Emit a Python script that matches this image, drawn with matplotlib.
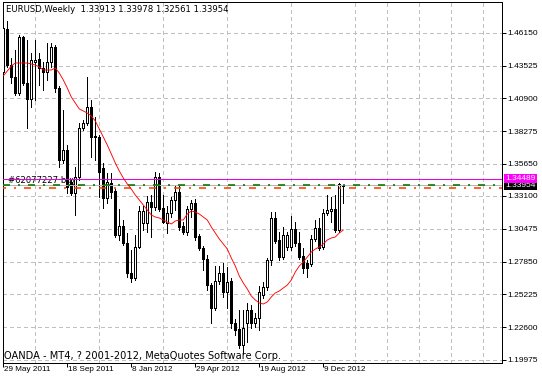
import matplotlib
matplotlib.use("Agg")
import matplotlib.pyplot as plt

plt.rcParams['lines.scale_dashes'] = False

# ---------------- data ----------------
title_text = "EURUSD,Weekly  1.33913 1.33978 1.32561 1.33954"
copyright_text = "OANDA - MT4, ? 2001-2012, MetaQuotes Software Corp."
order_label = "#62077227 buy"

opens = [1.4301, 1.4645, 1.4357, 1.4261, 1.4133, 1.4581, 1.4213, 1.4085, 1.4381, 1.4405,
         1.4333, 1.4301, 1.4381, 1.4501, 1.4173, 1.3597, 1.3677, 1.3421, 1.3333, 1.3461,
         1.3853, 1.3893, 1.4021, 1.3789, 1.3781, 1.3533, 1.3293, 1.3413, 1.3349, 1.2997,
         1.3069, 1.2933, 1.2693, 1.2653, 1.2901, 1.3093, 1.3093, 1.3261, 1.3221, 1.3461,
         1.3213, 1.3093, 1.3173, 1.3277, 1.3341, 1.3069, 1.3021, 1.3205, 1.3253, 1.2989,
         1.2893, 1.2805, 1.2597, 1.2413, 1.2629, 1.2693, 1.2541, 1.2629, 1.2293, 1.2245,
         1.2117, 1.2293, 1.2397, 1.2293, 1.2333, 1.2517, 1.2581, 1.2797, 1.3133, 1.2957,
         1.2821, 1.2901, 1.2901, 1.3045, 1.2933, 1.2829, 1.2773, 1.2765, 1.2965, 1.3053,
         1.2901, 1.3173, 1.3189, 1.3205, 1.3037, 1.33913]
highs = [1.4677, 1.4709, 1.4413, 1.4477, 1.4597, 1.4589, 1.4557, 1.4453, 1.4557, 1.4453,
         1.4381, 1.4533, 1.4533, 1.4517, 1.4189, 1.3997, 1.3717, 1.3437, 1.3541, 1.3893,
         1.3917, 1.4261, 1.4077, 1.3941, 1.3797, 1.3573, 1.3493, 1.3493, 1.3365, 1.3205,
         1.3117, 1.3013, 1.2877, 1.2997, 1.3229, 1.3229, 1.3309, 1.3317, 1.3501, 1.3493,
         1.3317, 1.3229, 1.3301, 1.3389, 1.3389, 1.3101, 1.3229, 1.3277, 1.3285, 1.3005,
         1.2909, 1.2837, 1.2613, 1.2749, 1.2749, 1.2773, 1.2741, 1.2653, 1.2325, 1.2397,
         1.2397, 1.2453, 1.2437, 1.2373, 1.2589, 1.2621, 1.2813, 1.3181, 1.3181, 1.3021,
         1.3061, 1.3021, 1.3149, 1.3101, 1.3021, 1.2893, 1.2797, 1.2997, 1.3117, 1.3133,
         1.3205, 1.3317, 1.3301, 1.3317, 1.3413, 1.33978]
lows = [1.4261, 1.4341, 1.4213, 1.4117, 1.4117, 1.4197, 1.3853, 1.4021, 1.4077, 1.4197,
        1.4157, 1.4237, 1.4341, 1.4141, 1.3541, 1.3573, 1.3333, 1.3317, 1.3157, 1.3437,
        1.3837, 1.3877, 1.3621, 1.3597, 1.3301, 1.3213, 1.3253, 1.3293, 1.2981, 1.2957,
        1.2917, 1.2661, 1.2621, 1.2637, 1.2893, 1.3037, 1.3021, 1.2981, 1.3197, 1.3189,
        1.3093, 1.3013, 1.3141, 1.3197, 1.3037, 1.3005, 1.2997, 1.3141, 1.2957, 1.2877,
        1.2717, 1.2557, 1.2293, 1.2397, 1.2605, 1.2501, 1.2413, 1.2253, 1.2197, 1.2093,
        1.2053, 1.2141, 1.2253, 1.2261, 1.2237, 1.2493, 1.2557, 1.2757, 1.2933, 1.2797,
        1.2805, 1.2877, 1.2877, 1.2909, 1.2805, 1.2693, 1.2661, 1.2749, 1.2949, 1.2877,
        1.2885, 1.3157, 1.3101, 1.3021, 1.3021, 1.32561]
closes = [1.4653, 1.4357, 1.4261, 1.4133, 1.4581, 1.4213, 1.4085, 1.4397, 1.4397, 1.4333,
          1.4301, 1.4381, 1.4501, 1.4173, 1.3597, 1.3677, 1.3381, 1.3333, 1.3461, 1.3853,
          1.3893, 1.4021, 1.3781, 1.3781, 1.3501, 1.3293, 1.3421, 1.3341, 1.2997, 1.3069,
          1.2933, 1.2693, 1.2653, 1.2901, 1.3189, 1.3189, 1.3261, 1.3221, 1.3461, 1.3205,
          1.3101, 1.3173, 1.3277, 1.3341, 1.3061, 1.3021, 1.3205, 1.3253, 1.2981, 1.2893,
          1.2805, 1.2597, 1.2413, 1.2629, 1.2693, 1.2541, 1.2621, 1.2293, 1.2237, 1.2117,
          1.2253, 1.2397, 1.2293, 1.2333, 1.2541, 1.2581, 1.2797, 1.3133, 1.2949, 1.2821,
          1.2997, 1.2997, 1.3045, 1.2933, 1.2821, 1.2733, 1.2733, 1.2965, 1.3053, 1.2893,
          1.3173, 1.3197, 1.3205, 1.3037, 1.3405, 1.33954]
ma_values = [1.4269, 1.4309, 1.4349, 1.4373, 1.4373, 1.4373, 1.4373, 1.4365, 1.4357, 1.4341,
             1.4317, 1.4317, 1.4317, 1.4333, 1.4293, 1.4237, 1.4173, 1.4101, 1.4053, 1.4005,
             1.3989, 1.3973, 1.3949, 1.3909, 1.3845, 1.3781, 1.3717, 1.3645, 1.3573, 1.3509,
             1.3453, 1.3405, 1.3365, 1.3317, 1.3277, 1.3237, 1.3197, 1.3157, 1.3141, 1.3133,
             1.3117, 1.3101, 1.3085, 1.3109, 1.3117, 1.3117, 1.3165, 1.3189, 1.3181, 1.3165,
             1.3141, 1.3117, 1.3061, 1.3013, 1.2965, 1.2925, 1.2885, 1.2813, 1.2749, 1.2669,
             1.2613, 1.2565, 1.2509, 1.2477, 1.2453, 1.2445, 1.2461, 1.2501, 1.2533, 1.2549,
             1.2573, 1.2597, 1.2637, 1.2701, 1.2749, 1.2781, 1.2821, 1.2861, 1.2885, 1.2901,
             1.2925, 1.2957, 1.2973, 1.2981, 1.3013, 1.3037]

x_tick_pos = [0, 16, 32, 48, 64, 80]
x_tick_labels = ["29 May 2011", "18 Sep 2011", "8 Jan 2012", "29 Apr 2012",
                 "19 Aug 2012", "9 Dec 2012"]
x_grid_step = 8
y_ticks = [1.19975, 1.22600, 1.25225, 1.27850, 1.30475, 1.33100,
           1.35650, 1.38275, 1.40900, 1.43525, 1.46150]
y_tick_labels = ["1.19975", "1.22600", "1.25225", "1.27850", "1.30475", "1.33100",
                 "1.35650", "1.38275", "1.40900", "1.43525", "1.46150"]

level_magenta = 1.34489
level_bid = 1.33954
level_order = 1.3395
level_stop = 1.3371

# ---------------- layout ----------------
FW, FH, DPI = 542, 380, 100
PT = 72.0 / DPI          # points per pixel
L, R, T, B = 3, 502, 2, 363
BAR_PX = 4

fig = plt.figure(figsize=(FW / DPI, FH / DPI), dpi=DPI, facecolor='white')
ax = fig.add_axes([L / FW, 1 - B / FH, (R - L) / FW, (B - T) / FH])
ax.set_facecolor('white')

n = len(opens)
xs = list(range(n))
x0 = -0.075
ax.set_xlim(x0, x0 + (R - L) / BAR_PX)
ax.set_ylim(1.1973, 1.4861)

for s in ax.spines.values():
    s.set_linewidth(1 * PT)
    s.set_color('black')

grid_kw = dict(color='#C0C0C0', linewidth=1 * PT, linestyle=(0, (4 * PT, 3 * PT)), antialiased=False)

axis_font = 'Liberation Sans'

# x axis: ticks only at labelled dates, grid every 8 bars
ax.set_xticks(x_tick_pos)
ax.set_xticks(list(range(x_grid_step, int(x0 + (R - L) / BAR_PX) + 1, x_grid_step)), minor=True)
ax.tick_params(axis='x', which='major', length=4 * PT, width=1 * PT, direction='out', labelbottom=False)
ax.tick_params(axis='x', which='minor', length=0, labelbottom=False)
ax.grid(which='minor', axis='x', **grid_kw)

for pos, lab in zip(x_tick_pos, x_tick_labels):
    ax.annotate(lab, xy=(pos, 0), xycoords=ax.get_xaxis_transform(),
                xytext=(1, -3), textcoords='offset pixels', ha='left', va='top',
                fontsize=5.9, family=axis_font, annotation_clip=False)

# y axis on right
ax.yaxis.tick_right()
ax.set_yticks(y_ticks, y_tick_labels)
ax.tick_params(axis='y', which='major', length=3.5 * PT, width=1 * PT, direction='out',
               pad=1.5 * PT, labelsize=6.0)
for lbl in ax.get_yticklabels():
    lbl.set_fontfamily(axis_font)
ax.grid(which='major', axis='y', **grid_kw)
ax.set_axisbelow(True)

# ---------------- candles ----------------
ax.vlines(xs, lows, highs, color='black', linewidth=1 * PT, zorder=3, antialiased=False)
bottoms = [min(o, c) for o, c in zip(opens, closes)]
heights = [max(abs(c - o), 0.00005) for o, c in zip(opens, closes)]
fills = ['white' if c >= o else 'black' for o, c in zip(opens, closes)]
ax.bar(xs, heights, bottom=bottoms, width=0.5, color=fills, edgecolor='black',
       linewidth=1 * PT, zorder=4, antialiased=False)

# moving average
ax.plot(xs, ma_values, color='#FF0000', linewidth=0.9 * PT, zorder=6, antialiased=True)

# horizontal levels
ax.axhline(level_magenta, color='#E800E8', linewidth=1 * PT, zorder=5, antialiased=False)
ax.axhline(level_bid, color='#B8B8B8', linewidth=1 * PT, zorder=5, antialiased=False)
ax.axhline(level_order, color='#007800', linewidth=1.6 * PT, zorder=5, antialiased=True,
           linestyle=(0, (7 * PT, 8 * PT, 2 * PT, 8 * PT)))
ax.axhline(level_stop, color='#FF4000', linewidth=1.6 * PT, zorder=5, antialiased=True,
           linestyle=(4 * PT, (7 * PT, 8 * PT, 2 * PT, 8 * PT)))

ytr = ax.get_yaxis_transform()
ax.annotate(order_label, xy=(5 / (R - L), level_order), xycoords=ytr,
            xytext=(0, 2), textcoords='offset pixels', ha='left', va='baseline',
            fontsize=6.1, family='DejaVu Sans', zorder=2.5)

# price boxes on the right axis
ax.annotate(f"{level_bid:.5f}", xy=(1, level_bid), xycoords=ytr,
            xytext=(3, 0), textcoords='offset pixels', ha='left', va='center',
            fontsize=6.0, family=axis_font, color='white', annotation_clip=False,
            bbox=dict(boxstyle='square,pad=0.15', fc='black', ec='none'), zorder=10)
ax.annotate(f"{level_magenta:.5f}", xy=(1, level_magenta), xycoords=ytr,
            xytext=(3, 0), textcoords='offset pixels', ha='left', va='center',
            fontsize=6.0, family=axis_font, color='white', annotation_clip=False,
            bbox=dict(boxstyle='square,pad=0.15', fc='#FF00FF', ec='none'), zorder=11)

# texts
fig.text(6 / FW, 1 - 5 / FH, title_text, ha='left', va='top', fontsize=6.1, family='DejaVu Sans')
fig.text(4 / FW, 1 - 359 / FH, copyright_text, ha='left', va='baseline', fontsize=7.1,
         family='DejaVu Sans')

fig.savefig('out.png', dpi=DPI, facecolor='white')
